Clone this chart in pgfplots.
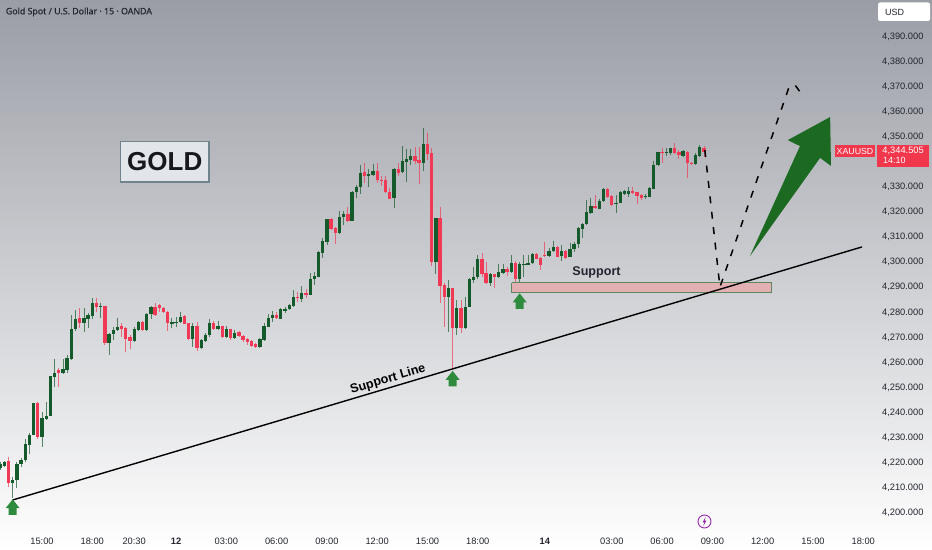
\documentclass[border=0pt]{standalone}
\usepackage{pgfplots}
\usepackage{pgfplotstable}
\usepackage{fontspec}
\setmainfont{Liberation Sans}
\newfontfamily\titlefont[FakeBold=0.3]{Noto Sans}
\pgfplotsset{compat=1.18}
\definecolor{cup}{HTML}{155A2A}
\definecolor{cdn}{HTML}{F03A55}
\definecolor{txt}{HTML}{22252E}
\definecolor{garrow}{HTML}{2E8B3E}
\definecolor{bigarrow}{HTML}{1C6921}
\definecolor{xred}{HTML}{F0374B}
\definecolor{bgtop}{HTML}{9A9DA5}
\definecolor{zonefill}{HTML}{E2B0B2}
\definecolor{zonedraw}{HTML}{5F875F}
\definecolor{goldedge}{HTML}{70848E}
\definecolor{goldfill}{HTML}{E2E5E9}
\definecolor{goldtxt}{HTML}{16181E}
\definecolor{flash}{HTML}{9628AA}
\pgfdeclareplotmark{uparrow}{%
 \pgfpathmoveto{\pgfqpoint{0pt}{7.8pt}}
 \pgfpathlineto{\pgfqpoint{7pt}{-1.2pt}}
 \pgfpathlineto{\pgfqpoint{4pt}{-1.2pt}}
 \pgfpathlineto{\pgfqpoint{4pt}{-7.8pt}}
 \pgfpathlineto{\pgfqpoint{-4pt}{-7.8pt}}
 \pgfpathlineto{\pgfqpoint{-4pt}{-1.2pt}}
 \pgfpathlineto{\pgfqpoint{-7pt}{-1.2pt}}
 \pgfpathclose\pgfusepathqfill}
% x = bar index, top/bot = candle body, hi/lo = wick
\pgfplotstableread{
x top bot hi lo
-3 4218.9 4217.2 4219.9 4216.5
-2 4219.7 4218.1 4220.1 4217.9
0 4212.6 4211.2 4213.9 4205.2
1 4218.9 4212.6 4219.9 4209.2
2 4220.4 4218.8 4221.2 4217.9
3 4226.8 4220.4 4228.8 4219.9
4 4230.4 4226.6 4231.4 4222.8
5 4243.4 4230.4 4243.4 4230.4
7 4237.4 4229.6 4239.5 4225.8
8 4238.2 4236.9 4243.8 4236.5
9 4253.9 4238.2 4254.2 4237.9
10 4255.4 4253.8 4260.8 4249.8
12 4256.7 4255.2 4260.7 4254.8
13 4261.1 4256.4 4262.4 4255.1
14 4272.9 4260.8 4278.3 4260.5
15 4276.6 4272.6 4280.3 4272.1
17 4277.3 4275.3 4281.0 4271.7
18 4278.2 4276.6 4279.3 4273.0
19 4283.3 4277.9 4285.0 4276.6
21 4282.1 4281.5 4283.3 4277.0
23 4270.6 4267.3 4271.0 4262.4
24 4272.4 4270.6 4273.7 4268.4
25 4273.6 4272.4 4277.3 4272.1
29 4272.8 4268.0 4273.4 4267.7
30 4275.6 4272.5 4275.8 4272.1
32 4278.9 4272.2 4279.1 4272.1
33 4281.4 4278.7 4281.9 4276.6
38 4275.7 4274.9 4277.3 4273.0
39 4275.7 4275.4 4277.4 4273.4
40 4277.7 4275.7 4279.4 4275.3
43 4274.0 4268.8 4275.0 4265.7
45 4268.2 4265.1 4268.6 4264.7
46 4270.5 4268.1 4271.0 4267.7
47 4275.0 4270.2 4276.6 4269.7
49 4274.0 4272.8 4276.1 4272.4
51 4272.8 4269.4 4274.0 4269.1
53 4271.3 4269.1 4272.4 4268.7
59 4268.8 4265.6 4269.1 4265.3
60 4274.0 4268.4 4275.3 4268.1
61 4277.2 4273.7 4278.6 4273.4
62 4278.4 4277.0 4279.9 4275.7
64 4280.6 4276.9 4281.0 4276.6
65 4280.9 4280.1 4281.7 4279.0
66 4282.3 4280.6 4282.7 4280.3
67 4285.4 4282.1 4288.3 4281.7
69 4287.3 4284.7 4289.9 4283.7
71 4292.8 4286.3 4295.0 4286.2
72 4293.9 4292.6 4295.6 4290.3
73 4303.3 4293.6 4303.9 4293.4
74 4307.9 4303.1 4308.9 4300.9
75 4316.5 4307.5 4316.8 4306.3
78 4317.6 4310.9 4319.9 4310.6
79 4318.8 4317.3 4319.9 4314.2
81 4327.5 4316.0 4327.8 4315.7
82 4329.4 4327.4 4330.2 4325.0
83 4335.1 4329.4 4338.2 4326.6
85 4334.4 4333.9 4336.4 4329.5
86 4335.9 4334.0 4338.6 4333.8
91 4336.6 4325.0 4336.8 4321.0
93 4339.6 4335.2 4345.7 4335.1
94 4340.6 4339.4 4344.4 4331.5
95 4341.9 4340.2 4344.5 4338.2
98 4346.5 4339.1 4352.8 4335.9
101 4316.9 4299.3 4317.2 4294.7
104 4289.1 4285.7 4292.3 4271.7
106 4281.3 4273.3 4284.3 4270.4
108 4281.7 4273.0 4285.7 4272.6
109 4292.7 4281.7 4293.0 4281.4
110 4293.6 4292.3 4297.6 4291.2
111 4300.7 4293.4 4302.3 4292.6
114 4294.6 4291.0 4295.0 4290.0
116 4295.5 4293.5 4298.7 4293.2
117 4296.7 4295.2 4298.7 4294.7
119 4299.2 4295.5 4302.3 4295.2
121 4298.7 4292.6 4299.6 4288.3
122 4298.7 4298.2 4302.3 4293.6
123 4299.2 4298.4 4302.3 4298.2
124 4302.5 4298.9 4303.2 4298.7
128 4304.0 4301.9 4305.2 4301.6
129 4305.5 4303.9 4308.0 4303.3
131 4304.0 4301.9 4306.3 4300.0
133 4304.7 4301.5 4307.2 4301.3
134 4306.8 4304.5 4307.3 4303.6
135 4312.9 4306.5 4313.3 4304.9
136 4314.6 4312.6 4315.2 4309.2
137 4319.3 4314.5 4324.2 4314.2
138 4321.8 4319.0 4325.1 4318.6
140 4323.9 4320.7 4324.5 4320.5
141 4328.6 4323.7 4328.9 4323.4
144 4323.1 4322.5 4326.2 4318.9
145 4327.4 4323.1 4327.9 4322.9
146 4327.8 4326.6 4328.2 4326.2
147 4327.9 4326.6 4329.3 4325.3
151 4325.8 4325.5 4326.6 4324.5
152 4329.0 4325.5 4329.3 4325.3
153 4338.2 4328.7 4339.8 4328.5
154 4343.2 4338.0 4343.5 4337.8
156 4343.3 4342.8 4344.8 4341.9
157 4344.8 4343.1 4345.1 4342.1
160 4343.6 4341.9 4344.1 4341.2
163 4342.1 4338.4 4342.8 4338.2
164 4345.2 4341.9 4346.1 4341.2
}\upcandles
\pgfplotstableread{
x top bot hi lo
-1 4220.1 4211.5 4221.6 4209.6
6 4243.4 4229.6 4243.8 4228.8
11 4256.4 4255.1 4257.1 4249.8
16 4277.0 4275.0 4281.0 4273.0
20 4283.3 4281.4 4285.0 4279.7
22 4282.1 4267.0 4282.1 4266.4
26 4274.0 4272.8 4275.3 4269.7
27 4273.0 4268.9 4273.7 4263.7
28 4269.4 4267.8 4270.4 4264.7
31 4275.7 4272.2 4275.8 4272.1
34 4281.4 4278.3 4283.0 4277.9
35 4282.3 4281.1 4282.6 4279.7
36 4281.0 4279.4 4281.4 4279.0
37 4279.5 4275.0 4280.1 4272.0
41 4277.9 4274.9 4278.3 4274.6
42 4275.0 4268.6 4275.3 4268.4
44 4274.0 4265.1 4275.7 4264.0
48 4275.0 4272.9 4276.1 4272.4
50 4274.1 4269.7 4274.1 4269.1
52 4272.8 4269.1 4272.8 4268.4
54 4271.6 4270.0 4272.1 4269.7
55 4270.0 4268.4 4270.4 4267.7
56 4268.7 4267.7 4269.1 4266.4
57 4267.9 4266.1 4268.4 4265.7
58 4266.7 4265.5 4267.3 4265.2
63 4278.4 4277.0 4279.7 4276.6
68 4285.4 4285.1 4287.7 4283.7
70 4287.3 4286.3 4288.6 4285.0
76 4316.6 4312.5 4316.9 4312.2
77 4312.9 4311.2 4313.3 4306.7
80 4318.8 4315.8 4321.5 4315.6
84 4335.2 4333.8 4338.8 4330.8
87 4335.9 4332.2 4338.8 4331.1
88 4332.0 4331.6 4333.8 4329.8
89 4332.0 4327.3 4333.8 4326.9
90 4327.4 4324.7 4328.9 4324.5
92 4336.6 4335.1 4339.1 4333.8
96 4341.9 4339.9 4345.5 4338.6
97 4340.2 4339.0 4345.5 4330.6
99 4346.5 4342.4 4351.1 4340.2
100 4343.1 4299.3 4344.8 4297.9
102 4316.9 4290.0 4321.5 4283.0
103 4290.3 4285.7 4291.0 4273.4
105 4289.1 4273.3 4289.1 4256.4
107 4281.3 4273.0 4284.3 4271.1
112 4300.7 4294.7 4302.9 4293.6
113 4295.0 4291.0 4299.6 4290.7
115 4294.7 4293.4 4294.7 4289.2
118 4296.7 4295.6 4297.6 4293.9
120 4299.2 4292.6 4299.9 4290.3
125 4302.5 4300.8 4303.2 4300.5
126 4300.9 4298.3 4301.6 4296.3
127 4302.3 4301.9 4307.6 4301.6
130 4305.5 4301.6 4305.9 4301.3
132 4304.0 4301.1 4304.3 4300.8
139 4321.8 4320.9 4326.2 4320.5
142 4328.6 4325.3 4328.9 4324.9
143 4325.8 4322.2 4326.2 4321.8
148 4327.9 4327.1 4329.5 4326.6
149 4327.3 4325.8 4327.5 4322.6
150 4326.1 4325.1 4326.6 4324.2
155 4343.2 4342.8 4344.9 4338.8
158 4344.8 4342.8 4346.8 4342.5
159 4343.2 4342.1 4344.1 4340.4
161 4343.5 4338.8 4343.9 4332.8
162 4339.1 4338.4 4339.5 4338.2
165 4345.1 4343.5 4345.7 4341.2
}\dncandles
\begin{document}
\begin{tikzpicture}
\begin{axis}[
  at={(0,0)},anchor=south west,
  width=932bp,height=550bp,scale only axis,
  xmin=-3.024,xmax=219.41,ymin=4184.66,ymax=4403.96,
  axis line style={draw=none},
  major tick length=0pt,
  axis background/.style={shade,top color=bgtop,bottom color=white},
  xtick={7,19,29,39,51,63,75,87,99,111,127,143,155,167,179,191,203},
  xticklabels={15:00,18:00,20:30,\textbf{12},03:00,06:00,09:00,12:00,15:00,18:00,\textbf{14},03:00,06:00,09:00,12:00,15:00,18:00},
  ytick={4200,4210,4220,4230,4240,4250,4260,4270,4280,4290,4300,4310,4320,4330,4350,4360,4370,4380,4390},
  yticklabel pos=right,
  xtick pos=bottom,
  tick label style={font=\fontsize{9.3bp}{11bp}\selectfont,text=txt},
  xticklabel style={anchor=center,yshift=5bp+4pt},
  yticklabel style={anchor=east,xshift=-1bp-4pt,yshift=-1.5bp,
    /pgf/number format/.cd,fixed,fixed zerofill,precision=3,1000 sep={,},assume math mode=true},
  scaled y ticks=false,
]
% wicks
\addplot[draw=none,mark=none,error bars/.cd,y dir=both,y explicit,error mark=none,
  error bar style={draw=cup,solid,line width=0.8bp,opacity=0.7}]
  table[x=x,y=hi,y error plus expr=0,y error minus expr=\thisrow{hi}-\thisrow{lo}]{\upcandles};
\addplot[draw=none,mark=none,error bars/.cd,y dir=both,y explicit,error mark=none,
  error bar style={draw=cdn,solid,line width=0.8bp,opacity=0.7}]
  table[x=x,y=hi,y error plus expr=0,y error minus expr=\thisrow{hi}-\thisrow{lo}]{\dncandles};
% bodies
\addplot[draw=none,mark=none,error bars/.cd,y dir=both,y explicit,error mark=none,
  error bar style={draw=cup,solid,line width=3.3bp}]
  table[x=x,y=top,y error plus expr=0,y error minus expr=\thisrow{top}-\thisrow{bot}]{\upcandles};
\addplot[draw=none,mark=none,error bars/.cd,y dir=both,y explicit,error mark=none,
  error bar style={draw=cdn,solid,line width=3.3bp}]
  table[x=x,y=top,y error plus expr=0,y error minus expr=\thisrow{top}-\thisrow{bot}]{\dncandles};
% support zone
\addplot[fill=zonefill,draw=zonedraw,line width=0.8bp]
  coordinates {(119.1,4291.2)(181,4291.2)(181,4287.2)(119.1,4287.2)(119.1,4291.2)};
% support line
\addplot[black,line width=1.4bp] coordinates {(0,4204.6)(202.7,4305.5)};
% projected path
\addplot[black,line width=1.5bp,dash pattern=on 7bp off 8.5bp] coordinates
  {(165.2,4344.1)(168.8,4289.5)(185.3,4369.3)(186.7,4370.1)(188.1,4366.9)};
% big arrow
\addplot[fill=bigarrow,draw=none] coordinates
  {(175.97,4301.9)(187.9,4345.7)(185.0,4348.1)(195.1,4357.3)(195.3,4337.8)(192.7,4341.0)(175.97,4301.9)};
% small arrows
\addplot[only marks,mark=uparrow,color=garrow,mark options={fill=garrow,draw=none}] coordinates
  {(0,4201.8)(105,4253.0)(121,4283.9)};
\end{axis}
\begin{scope}[x=1bp,y=-1bp,shift={(0bp,550bp)}]
\node[anchor=west,inner sep=0pt,text=txt] at (5.7,12) {\titlefont\fontsize{8.8bp}{11bp}\selectfont Gold Spot / U.S. Dollar · 15 · OANDA};
\draw[line width=1.8bp,draw=goldedge,fill=goldfill] (120.5,141.5) rectangle (209,182);
\node[inner sep=0pt,text=goldtxt] at (164.8,162) {\bfseries\fontsize{26bp}{28bp}\selectfont GOLD};
\node[inner sep=0pt,text=txt] at (596.5,272) {\bfseries\fontsize{12.6bp}{14bp}\selectfont Support};
\node[inner sep=0pt,rotate=16.6,text=black] at (388,379.5) {\bfseries\fontsize{12.6bp}{14bp}\selectfont Support Line};
% USD
\fill[white,rounded corners=2bp] (878,2.5) rectangle (930,21);
\node[anchor=west,inner sep=0pt,text=txt] at (885,12) {\fontsize{9bp}{11bp}\selectfont USD};
% price tags
\fill[xred] (835,145) rectangle (875,157);
\fill[xred] (877,145) rectangle (929,167);
\node[anchor=center,inner sep=0pt,text=white] at (855,151.2) {\fontsize{8.8bp}{10bp}\selectfont XAUUSD};
\node[anchor=east,inner sep=0pt,text=white] at (924,151) {\fontsize{9.3bp}{11bp}\selectfont 4,344.505};
\node[anchor=west,inner sep=0pt,text=white] at (883,160.5) {\fontsize{9bp}{11bp}\selectfont 14:10};
% flash icon
\draw[line width=0.9bp,draw=flash] (704.5,521.5) circle (6.5);
\fill[flash] (705.8,516.8) -- (702.6,522.3) -- (704.4,522.3) -- (703.2,526.2) -- (706.4,520.7) -- (704.6,520.7) -- cycle;
\end{scope}
\pgfresetboundingbox
\path (0,0) rectangle (932bp,550bp);
\end{tikzpicture}
\end{document}
